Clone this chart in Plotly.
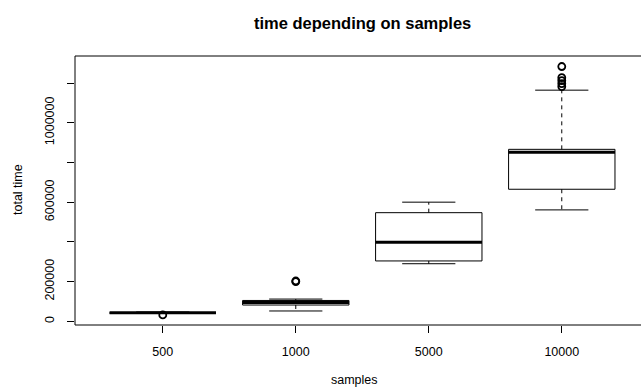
import plotly.graph_objects as go

# ---- data ----
categories = ["500", "1000", "5000", "10000"]
lower_whisker = [40000, 52000, 290000, 561000]
q1 = [42000, 82000, 304000, 665000]
median = [43500, 95000, 398000, 851000]
q3 = [45000, 105000, 547000, 866000]
upper_whisker = [47000, 112000, 600000, 1164000]
outlier_cat = ["500", "1000", "1000", "10000", "10000", "10000", "10000", "10000"]
outlier_val = [32000, 203000, 200000, 1283000, 1227000, 1212000, 1197000, 1182000]

y_ticks = [0, 200000, 400000, 600000, 800000, 1000000, 1200000]
y_tick_labels = ["0", "200000", "", "600000", "", "1000000", ""]

# ---- geometry in plot units ----
half_box = 0.4
half_staple = 0.2
pos = {c: i + 1 for i, c in enumerate(categories)}

box_x, box_y = [], []
med_x, med_y = [], []
wh_x, wh_y = [], []
st_x, st_y = [], []
for c, lw, a, m, b, uw in zip(categories, lower_whisker, q1, median, q3, upper_whisker):
    p = pos[c]
    box_x += [p - half_box, p + half_box, p + half_box, p - half_box, p - half_box, None]
    box_y += [a, a, b, b, a, None]
    med_x += [p - half_box, p + half_box, None]
    med_y += [m, m, None]
    wh_x += [p, p, None, p, p, None]
    wh_y += [b, uw, None, a, lw, None]
    st_x += [p - half_staple, p + half_staple, None, p - half_staple, p + half_staple, None]
    st_y += [uw, uw, None, lw, lw, None]

fig = go.Figure()
fig.add_trace(go.Scatter(x=wh_x, y=wh_y, mode="lines",
                         line=dict(color="black", width=1, dash="4px,4px"),
                         hoverinfo="skip", showlegend=False))
fig.add_trace(go.Scatter(x=st_x, y=st_y, mode="lines",
                         line=dict(color="black", width=1),
                         hoverinfo="skip", showlegend=False))
fig.add_trace(go.Scatter(x=box_x, y=box_y, mode="lines",
                         line=dict(color="black", width=1),
                         hoverinfo="skip", showlegend=False))
fig.add_trace(go.Scatter(x=med_x, y=med_y, mode="lines",
                         line=dict(color="black", width=3),
                         hoverinfo="skip", showlegend=False))
fig.add_trace(go.Scatter(x=[pos[c] for c in outlier_cat], y=outlier_val, mode="markers",
                         marker=dict(symbol="circle-open", size=7, color="black",
                                     line=dict(width=1.8, color="black")),
                         hoverinfo="skip", showlegend=False))

FONT = "Liberation Sans, Arial, sans-serif"
L, R, T, B = 75, 0, 56, 67
W, H = 641, 392
pw, ph = W - L - R, H - T - B
px_per_unit = 133.0
x0 = 0.34
x1 = x0 + pw / px_per_unit

fig.update_layout(
    width=W, height=H,
    margin=dict(l=L, r=R, t=T, b=B, pad=0),
    paper_bgcolor="white", plot_bgcolor="white",
    font=dict(family=FONT, size=12.5, color="black"),
    showlegend=False,
    xaxis=dict(range=[x0, x1], tickvals=[pos[c] for c in categories], ticktext=categories,
               ticks="outside", ticklen=7, tickcolor="black", tickwidth=1,
               showgrid=False, zeroline=False, showline=False,
               tickfont=dict(family=FONT, size=12.5, color="black"),
               ticklabelstandoff=8),
    yaxis=dict(range=[-18600, 1336000], tickvals=y_ticks, ticktext=y_tick_labels,
               tickangle=-90, ticks="outside", ticklen=7, tickcolor="black", tickwidth=1,
               showgrid=False, zeroline=False, showline=False,
               tickfont=dict(family=FONT, size=12.5, color="black"),
               ticklabelstandoff=8),
)

# plot frame (extends past the right edge of the image, as in the reference)
fig.add_shape(type="rect", xref="paper", yref="paper", x0=0, x1=(650 - L) / pw, y0=0, y1=1,
              line=dict(color="black", width=1), layer="above")

def px_x(p):
    return (p - L) / pw

def px_y(p):
    return (H - B - p) / ph

fig.add_annotation(text="<b>time depending on samples</b>", xref="paper", yref="paper",
                   x=px_x(362), y=px_y(23), showarrow=False, xanchor="center", yanchor="middle",
                   font=dict(family=FONT, size=16.5, color="black"))
fig.add_annotation(text="samples", xref="paper", yref="paper",
                   x=px_x(354), y=px_y(380), showarrow=False, xanchor="center", yanchor="middle",
                   font=dict(family=FONT, size=12.5, color="black"))
fig.add_annotation(text="total time", xref="paper", yref="paper", textangle=-90,
                   x=px_x(18), y=px_y(190), showarrow=False, xanchor="center", yanchor="middle",
                   font=dict(family=FONT, size=12.5, color="black"))

fig.write_html("out.html")
